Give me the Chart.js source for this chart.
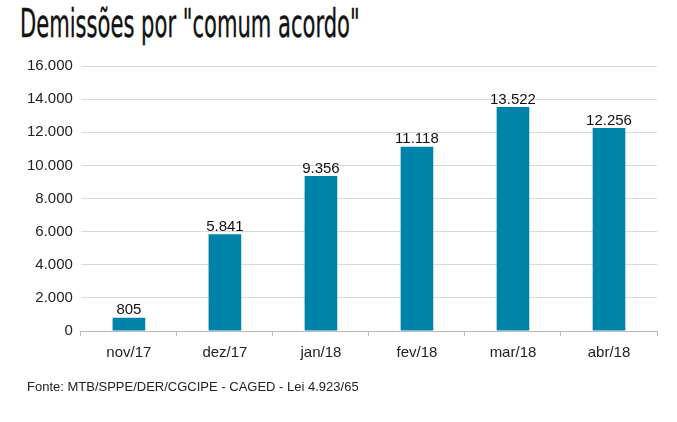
<!DOCTYPE html>
<html>
<head>
<meta charset="utf-8">
<script src="https://cdn.jsdelivr.net/npm/chart.js@4"></script>
<style>
  html, body { margin: 0; padding: 0; background: #fff; }
  #wrap { position: relative; width: 677px; height: 422px; overflow: hidden; }
  #title {
    position: absolute; left: 20px; top: 1px;
    font-family: "DejaVu Sans Condensed", "DejaVu Sans", sans-serif;
    font-size: 33px; color: #111; white-space: nowrap;
    transform: scale(0.71, 1.16); transform-origin: left top;
    -webkit-text-stroke: 0.3px #111;
  }
  #fonte {
    position: absolute; left: 27px; top: 379px;
    font-family: "Liberation Sans", Arial, sans-serif;
    font-size: 13px; color: #222;
  }
  canvas { position: absolute; left: 0; top: 0; }
</style>
</head>
<body>
<div id="wrap">
  <div id="title">Demissões por "comum acordo"</div>
  <canvas id="chart" width="677" height="422"></canvas>
  <div id="fonte">Fonte: MTB/SPPE/DER/CGCIPE - CAGED - Lei 4.923/65</div>
</div>
<script>
  const months = ["nov/17", "dez/17", "jan/18", "fev/18", "mar/18", "abr/18"];
  const dismissals = [805, 5841, 9356, 11118, 13522, 12256];
  const yTicks = [0, 2000, 4000, 6000, 8000, 10000, 12000, 14000, 16000];

  const fmt = (v) => String(v).replace(/\B(?=(\d{3})+(?!\d))/g, ".");

  // draw the value above each bar
  const barLabels = {
    id: "barLabels",
    afterDatasetsDraw(chart) {
      const ctx = chart.ctx;
      const meta = chart.getDatasetMeta(0);
      ctx.save();
      ctx.font = "15px 'Liberation Sans', Arial, sans-serif";
      ctx.fillStyle = "#111";
      ctx.textAlign = "center";
      ctx.textBaseline = "bottom";
      meta.data.forEach((bar, i) => {
        ctx.fillText(fmt(dismissals[i]), bar.x, bar.y);
      });
      ctx.restore();
    },
  };

  new Chart(document.getElementById("chart"), {
    type: "bar",
    data: {
      labels: months,
      datasets: [
        {
          data: dismissals,
          backgroundColor: "#0083a9",
          categoryPercentage: 1,
          barPercentage: 0.34,
        },
      ],
    },
    options: {
      responsive: false,
      animation: false,
      layout: { padding: { top: 66, left: 19, right: 20, bottom: 52 } },
      scales: {
        x: {
          grid: {
            offset: true,
            drawOnChartArea: false,
            drawTicks: true,
            tickLength: 5,
            color: "#bbb",
          },
          border: { color: "#bbb" },
          ticks: {
            color: "#222",
            padding: 8,
            font: { family: "'Liberation Sans', Arial, sans-serif", size: 15 },
          },
        },
        y: {
          min: 0,
          max: 16000,
          afterBuildTicks: (axis) => {
            axis.ticks = yTicks.map((v) => ({ value: v }));
          },
          grid: { color: "#d9d9d9", drawTicks: false },
          border: { display: false },
          ticks: {
            color: "#222",
            padding: 8,
            callback: (v) => fmt(v),
            font: { family: "'Liberation Sans', Arial, sans-serif", size: 15 },
          },
        },
      },
      plugins: {
        legend: { display: false },
        tooltip: { enabled: false },
      },
    },
    plugins: [barLabels],
  });
</script>
</body>
</html>
